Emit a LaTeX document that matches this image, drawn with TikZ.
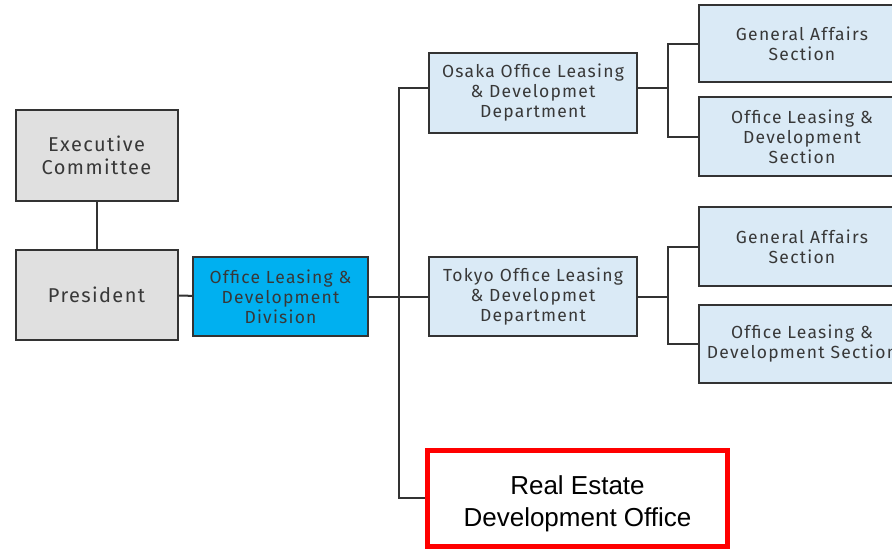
\documentclass[tikz,border=0pt]{standalone}
\usepackage{fontspec}
\setmainfont{Fira Sans}[LetterSpace=7]
\newfontfamily\arialfont{Liberation Sans}
\definecolor{edge}{HTML}{333333}
\definecolor{greyfill}{HTML}{E0E0E0}
\definecolor{paleblue}{HTML}{DAEAF6}
\definecolor{divblue}{HTML}{00B0F0}
\definecolor{txt}{HTML}{383838}
\definecolor{alertred}{HTML}{FF0000}
\begin{document}
\begin{tikzpicture}[x=1pt,y=-1pt,
  box/.style={draw=edge,line width=2pt,inner sep=0pt,align=center,text=txt},
  greybox/.style={box,fill=greyfill,minimum width=162pt,font=\fontsize{20}{23}\selectfont},
  bluebox/.style={box,fill=paleblue,font=\fontsize{17.5}{20}\selectfont},
  divbox/.style={box,fill=divblue,font=\fontsize{17.5}{20}\selectfont},
  secbox/.style={bluebox,minimum width=206pt},
  link/.style={draw=edge,line width=2pt}]
\clip (0,0) rectangle (892,549);
\fill[white] (0,0) rectangle (892,549);

% top management
\node[greybox,minimum height=91pt] (exec) at (96.5,155.5) {Executive\\Committee};
\node[greybox,minimum height=90pt] (pres) at (96.5,295) {President};
\node[divbox,minimum width=175pt,minimum height=79pt] (div) at (280.5,296.5) {Office Leasing \&\\Development\\Division};

% departments
\node[bluebox,minimum width=208pt,minimum height=80pt] (osaka) at (533,93) {Osaka Office Leasing\\\& Developmet\\Department};
\node[bluebox,minimum width=208pt,minimum height=79pt] (tokyo) at (533,296.5) {Tokyo Office Leasing\\\& Developmet\\Department};

% sections (right column runs past the page edge)
\node[secbox,minimum height=77pt] (ga1) at (802,43.5) {General Affairs\\Section};
\node[secbox,minimum height=79pt] (old1) at (802,136.5) {Office Leasing \&\\Development\\Section};
\node[secbox,minimum height=79pt] (ga2) at (802,246.5) {General Affairs\\Section};
\node[secbox,minimum height=78pt] (old2) at (802,344) {Office Leasing \&\\Development Section};

% new office
\node[draw=alertred,line width=5pt,inner sep=0pt,minimum width=300pt,minimum height=96pt,
  align=center,font=\arialfont\fontsize{26}{32}\selectfont] (reo) at (577.5,498)
  {\rule{0pt}{31pt}Real Estate\\Development Office};

% connectors
\coordinate (trunk) at (399,0);
\draw[link] (exec) -- (pres);
\draw[link] (pres) -- (div);
\draw[link] (div) -- (tokyo);
\draw[link] ([yshift=5pt]osaka.west) -| (trunk |- reo.west) -- (reo.west);

\draw[link] ([yshift=5pt]osaka.east) -- ++(30,0) coordinate (ob);
\draw[link] (ga1.west) -| (ob) |- (old1.west);
\draw[link] (tokyo.east) -- ++(30,0) coordinate (tb);
\draw[link] (ga2.west) -| (tb) |- (old2.west);
\end{tikzpicture}
\end{document}
